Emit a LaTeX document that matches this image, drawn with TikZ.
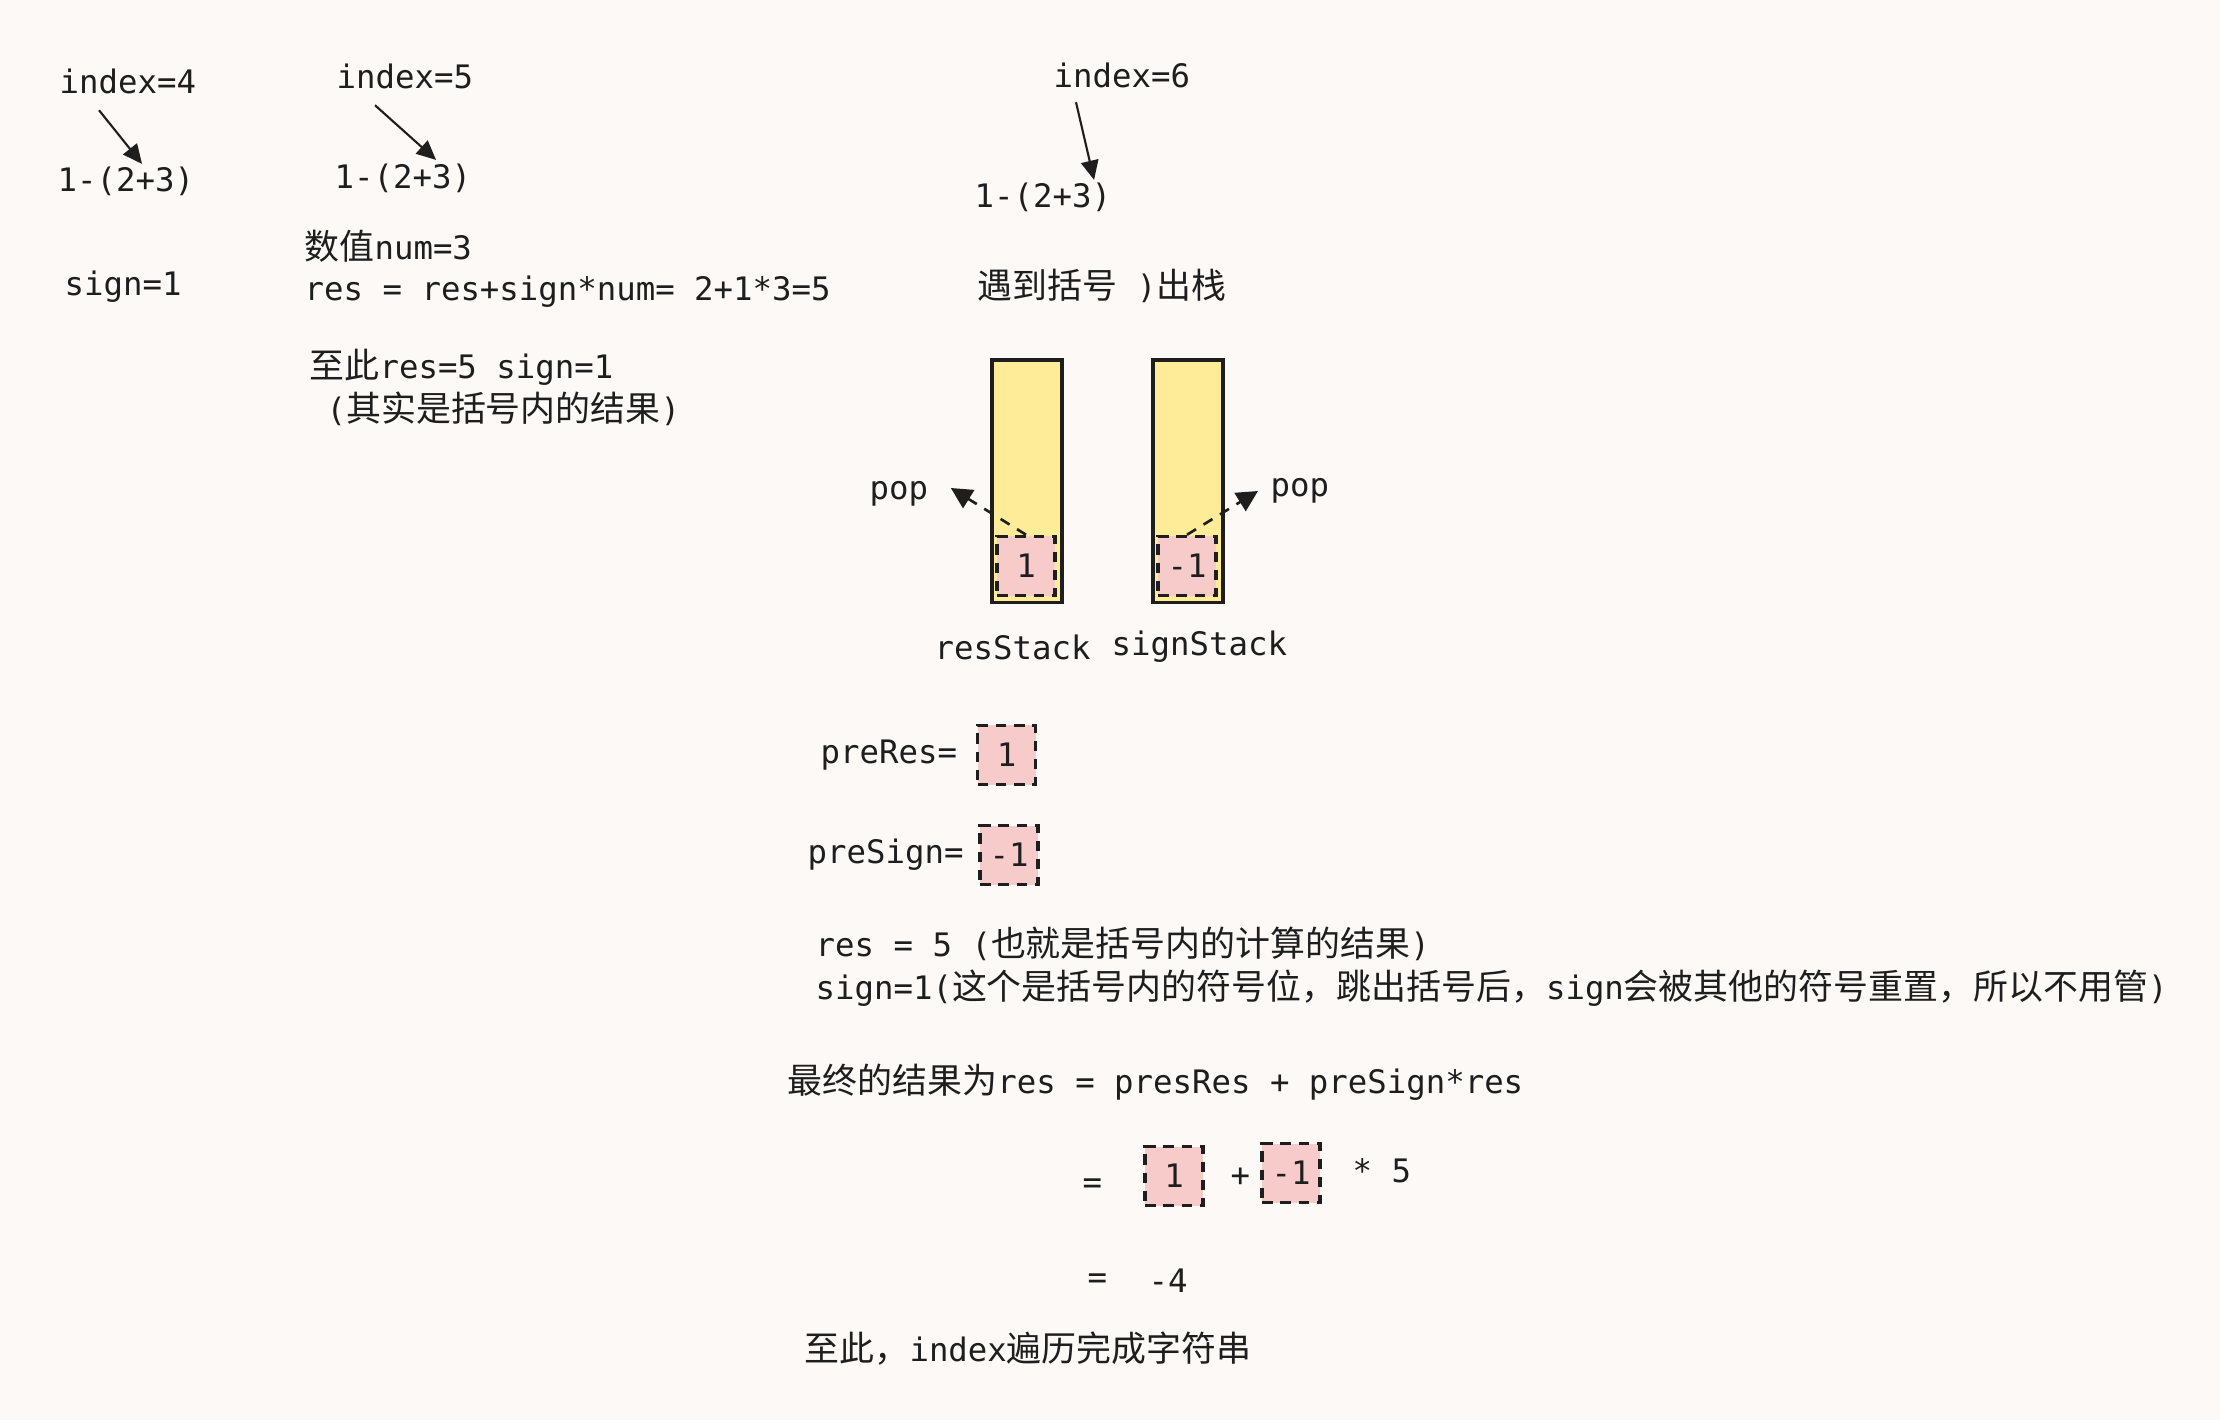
\documentclass[tikz,border=0pt]{standalone}
\usepackage{fontspec}
\setmainfont{DejaVu Sans Mono}
\newfontfamily\cjk[Scale=1.08]{Noto Sans CJK SC}
\usetikzlibrary{arrows.meta, positioning}

\definecolor{paper}{HTML}{FCF9F6}
\definecolor{ink}{HTML}{1E1E1E}
\definecolor{stackfill}{HTML}{FFEC99}
\definecolor{cellfill}{HTML}{F8CBCB}

\begin{document}
\begin{tikzpicture}[
  x=0.01cm, y=-0.01cm,
  txt/.style={anchor=west, inner sep=0pt, text=ink, font=\fontsize{9.2}{11}\selectfont},
  stackbox/.style={draw=ink, fill=stackfill, line width=0.9pt, minimum width=0.7cm, minimum height=2.42cm, inner sep=0pt},
  cell/.style={draw=ink, fill=cellfill, line width=1pt, dash pattern=on 3pt off 2.2pt,
    minimum width=0.58cm, minimum height=0.59cm, inner sep=0pt, text=ink, font=\fontsize{9.2}{11}\selectfont},
  ptr/.style={-{Triangle[length=5.5pt, width=5pt]}, draw=ink, line width=0.6pt},
  popline/.style={ptr, -{Triangle[length=6pt, width=6pt]}, line width=0.75pt, dash pattern=on 3pt off 2.5pt}
]
\fill[paper] (0,0) rectangle (2220,1420);
\useasboundingbox (0,0) rectangle (2220,1420);

% index = 4
\node[txt] (idx4) at (59,81) {index=4};
\node[txt] (expr4) at (57,181) {1-(2+3)};
\node[txt] (sign4) at (64,287) {sign=1};
\draw[ptr] ([xshift=0.4cm, yshift=-0.16cm]idx4.south west) -- ([xshift=0.85cm, yshift=0.02cm]expr4.north west);

% index = 5
\node[txt] (idx5) at (336,76) {index=5};
\node[txt] (expr5) at (334,178) {1-(2+3)};
\draw[ptr] ([xshift=0.39cm, yshift=-0.16cm]idx5.south west) -- ([xshift=1.02cm, yshift=0.03cm]expr5.north west);
\node[txt] (num5) at (304,246) {{\cjk 数值}num=3};
\node[txt] (res5) at (304,292) {res = res+sign*num= 2+1*3=5};
\node[txt] (sofar5) at (309,367) {{\cjk 至此}res=5 sign=1};
\node[txt] (note5) at (326,409) {({\cjk 其实是括号内的结果})};

% index = 6
\node[txt] (idx6) at (1053,75) {index=6};
\node[txt] (expr6) at (974,197) {1-(2+3)};
\draw[ptr] ([xshift=0.23cm, yshift=-0.14cm]idx6.south west) -- ([xshift=1.2cm, yshift=0.02cm]expr6.north west);
\node[txt] (close6) at (977,286) {{\cjk 遇到括号} ){\cjk 出栈}};

% stacks
\node[stackbox] (resStack) at (1027,481) {};
\node[stackbox] (signStack) at (1188,481) {};
\node[cell] (resTop) at (1026,566) {1};
\node[cell] (signTop) at (1187,566) {-1};
\node[txt] (popL) at (869,494) {pop};
\node[txt] (popR) at (1270,491) {pop};
\draw[popline] (resTop.north) -- ([xshift=0.22cm, yshift=0.06cm]popL.east);
\draw[popline] (signTop.north) -- ([xshift=-0.12cm]popR.west);
\node[txt] (resLbl) at (934,647) {resStack};
\node[txt] (signLbl) at (1111,647) {signStack};

% popped values
\node[txt] (preRes) at (820,755) {preRes=};
\node[cell, right=0.18cm of preRes] (preResVal) {1};
\node[txt] (preSign) at (807,855) {preSign=};
\node[cell, right=0.14cm of preSign] (preSignVal) {-1};

\node[txt] (resNote) at (815,944) {res = 5 ({\cjk 也就是括号内的计算的结果})};
\node[txt] (signNote) at (815,988) {sign=1({\cjk 这个是括号内的符号位，跳出括号后，}sign{\cjk 会被其他的符号重置，所以不用管})};

% final result
\node[txt] (formula) at (787,1082) {{\cjk 最终的结果为}res = presRes + preSign*res};
\node[txt] (eq1) at (1082,1186) {=};
\node[cell] (sumRes) at (1174,1176) {1};
\node[txt] (plus) at (1230,1177) {+};
\node[cell] (sumSign) at (1291,1173) {-1};
\node[txt] (times) at (1352,1171) {* 5};
\node[txt] (eq2) at (1087,1281) {=};
\node[txt] (final) at (1148,1281) {-4};
\node[txt] (done) at (804,1349) {{\cjk 至此，}index{\cjk 遍历完成字符串}};
\end{tikzpicture}
\end{document}
